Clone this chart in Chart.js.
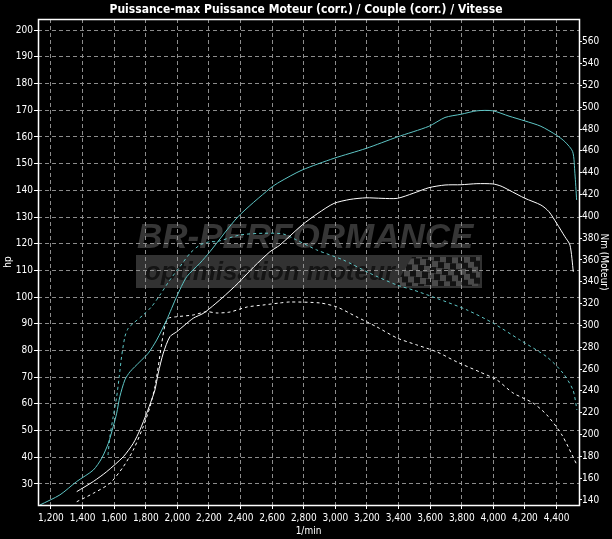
<!DOCTYPE html>
<html>
<head>
<meta charset="utf-8">
<script src="https://cdn.jsdelivr.net/npm/chart.js@4.4.1/dist/chart.umd.min.js"></script>
<style>
  html, body { margin: 0; padding: 0; background: #000; }
  #wrap { width: 612px; height: 539px; }
</style>
</head>
<body>
<div id="wrap"><canvas id="chart" width="612" height="539"></canvas></div>
<script>
// tick labels
const rpmTicks = [1200, 1400, 1600, 1800, 2000, 2200, 2400, 2600, 2800, 3000, 3200, 3400, 3600, 3800, 4000, 4200, 4400];
const hpTicks = [30, 40, 50, 60, 70, 80, 90, 100, 110, 120, 130, 140, 150, 160, 170, 180, 190, 200];
const nmTicks = [140, 160, 180, 200, 220, 240, 260, 280, 300, 320, 340, 360, 380, 400, 420, 440, 460, 480, 500, 520, 540, 560];

// tuned power (cyan solid, hp)
const tunedPowerRpm = [1130, 1257, 1363, 1468, 1521, 1563, 1594, 1616, 1636, 1668, 1700, 1763, 1816, 1869, 1932, 1996, 2059, 2143, 2206, 2384, 2586, 2649, 2789, 2991, 3194, 3392, 3592, 3694, 3795, 3896, 3997, 4099, 4200, 4301, 4401, 4453, 4502, 4516, 4527];
const tunedPowerHp = [22.1, 25.9, 30.9, 35.2, 39.6, 45.2, 51.5, 56.5, 62.7, 69, 72, 75.8, 79, 83.9, 91.4, 100.2, 107.6, 112.7, 117, 130.1, 140.7, 143.2, 147.6, 152, 155.7, 160, 164, 167.3, 168.5, 169.8, 169.8, 167.8, 166, 164, 160.6, 158.2, 154.5, 146.4, 136.4];

// stock power (white solid, hp)
const stockPowerRpm = [1363, 1468, 1553, 1658, 1721, 1763, 1806, 1837, 1858, 1879, 1911, 1953, 1996, 2048, 2101, 2164, 2206, 2282, 2384, 2485, 2586, 2649, 2789, 2890, 2991, 3093, 3194, 3295, 3392, 3493, 3592, 3694, 3795, 3896, 3997, 4048, 4099, 4200, 4301, 4352, 4401, 4453, 4485, 4506];
const stockPowerHp = [27.1, 30.9, 34.6, 40.2, 45.2, 50.2, 56.5, 61.5, 65.2, 71.5, 79, 85.2, 87, 89.6, 92.1, 93.9, 95.8, 99.6, 105.2, 111.4, 117, 119.5, 127, 131.4, 135.1, 136.6, 137.2, 137, 137, 138.9, 141, 142, 142.1, 142.5, 142.4, 141.6, 140.1, 137, 134.5, 132, 127.6, 122.6, 119.5, 109.5];

// tuned torque (cyan dashed, Nm)
const tunedTorqueRpm = [1561, 1573, 1594, 1616, 1632, 1647, 1668, 1689, 1721, 1784, 1837, 1890, 1953, 2016, 2080, 2143, 2206, 2249, 2396, 2544, 2670, 2755, 2882, 3050, 3219, 3388, 3493, 3641, 3833, 3997, 4168, 4339, 4440, 4504, 4529];
const tunedTorqueNm = [181.2, 198, 216.4, 234.7, 253, 271.3, 289.7, 297.4, 302, 309.6, 317.2, 327.9, 341.7, 353.8, 366.1, 373.7, 376.8, 376.8, 382.9, 384.5, 383.8, 378.3, 369.2, 360, 347.8, 337.1, 332.5, 324.9, 314.2, 302.2, 286.7, 271.1, 256.4, 240.8, 222.5];

// stock torque (white dashed, Nm)
const stockTorqueRpm = [1363, 1468, 1573, 1658, 1721, 1784, 1827, 1858, 1879, 1901, 1922, 1942, 1996, 2101, 2185, 2251, 2333, 2441, 2542, 2649, 2713, 2903, 3010, 3137, 3263, 3390, 3516, 3643, 3770, 3915, 4023, 4124, 4251, 4339, 4434, 4529];
const stockTorqueNm = [138.4, 146.1, 155.3, 170.5, 185.8, 207.2, 225.5, 243.9, 262.2, 283.6, 300.4, 306.5, 308, 309.6, 312.6, 311.4, 312.3, 316.9, 318.7, 320.6, 321.5, 320.6, 316.9, 307.7, 298.6, 288.5, 282.1, 275.7, 266.5, 257.3, 250, 238.1, 228.9, 217.9, 199.6, 172.1];

const CYAN = "#5ec6c6";
const WHITE = "#ffffff";
const GRID = "#8c8c8c";
const tickFont = { family: "'Liberation Sans Narrow', 'DejaVu Sans Condensed', sans-serif", size: 10 };

function toPoints(xs, ys) {
    return xs.map((x, i) => ({ x: x, y: ys[i] }));
}

// black background + watermark, drawn under grid and curves
const backdrop = {
    id: "backdrop",
    beforeDraw(chart) {
        const ctx = chart.ctx;
        ctx.save();
        ctx.fillStyle = "#000";
        ctx.fillRect(0, 0, chart.width, chart.height);

        ctx.fillStyle = "#363636";
        ctx.font = "italic bold 35px 'Liberation Sans', sans-serif";
        ctx.textBaseline = "alphabetic";
        ctx.fillText("BR-PERFORMANCE", 137, 248);

        ctx.fillStyle = "#323232";
        ctx.fillRect(136, 255, 346, 33);
        ctx.fillStyle = "#141414";
        ctx.font = "italic bold 26px 'Liberation Sans', sans-serif";
        ctx.fillText("optimisation moteur", 145, 280);

        // checkered flag
        ctx.beginPath();
        ctx.moveTo(412, 257);
        ctx.lineTo(480, 257);
        ctx.lineTo(480, 286);
        ctx.lineTo(395, 286);
        ctx.closePath();
        ctx.clip();
        const sq = 6;
        for (let r = 0; r < 6; r++) {
            for (let c = 0; c < 16; c++) {
                const x0 = 392 + c * sq - r * 2;
                const y0 = 255 + r * sq - Math.sin(c / 2.2) * 2.5;
                ctx.fillStyle = (r + c) % 2 ? "#121212" : "#4a4a4a";
                ctx.fillRect(x0, y0, sq, sq);
            }
        }
        ctx.restore();
    }
};

// white frame around the plot
const frame = {
    id: "frame",
    afterDraw(chart) {
        const a = chart.chartArea;
        const ctx = chart.ctx;
        ctx.save();
        ctx.strokeStyle = WHITE;
        ctx.lineWidth = 1.5;
        ctx.strokeRect(Math.round(a.left) + 0.5, Math.round(a.top) + 0.5, Math.round(a.right - a.left), Math.round(a.bottom - a.top));
        ctx.restore();
    }
};

new Chart(document.getElementById("chart"), {
    type: "line",
    data: {
        datasets: [
            {
                label: "Puissance (corr.)",
                data: toPoints(tunedPowerRpm, tunedPowerHp),
                borderColor: CYAN,
                yAxisID: "yHp",
            },
            {
                label: "Puissance série",
                data: toPoints(stockPowerRpm, stockPowerHp),
                borderColor: WHITE,
                yAxisID: "yHp",
            },
            {
                label: "Couple (corr.)",
                data: toPoints(tunedTorqueRpm, tunedTorqueNm),
                borderColor: CYAN,
                borderDash: [3, 3],
                yAxisID: "yNm",
            },
            {
                label: "Couple série",
                data: toPoints(stockTorqueRpm, stockTorqueNm),
                borderColor: WHITE,
                borderDash: [3, 3],
                yAxisID: "yNm",
            },
        ],
    },
    options: {
        responsive: false,
        animation: false,
        devicePixelRatio: 1,
        layout: { padding: 0 },
        elements: {
            point: { radius: 0 },
            line: { borderWidth: 1, tension: 0.25, fill: false },
        },
        plugins: {
            legend: { display: false },
            tooltip: { enabled: false },
            title: {
                display: true,
                text: "Puissance-max Puissance Moteur (corr.) / Couple (corr.) / Vitesse",
                color: WHITE,
                font: { family: "'Liberation Sans Narrow', 'DejaVu Sans Condensed', sans-serif", size: 12, weight: "bold", lineHeight: 1.25 },
                padding: { top: 2, bottom: 2 },
            },
        },
        scales: {
            x: {
                type: "linear",
                position: "bottom",
                min: 1118,
                max: 4542,
                afterBuildTicks: (s) => { s.ticks = rpmTicks.map((v) => ({ value: v })); },
                afterFit: (s) => { s.height = 34; },
                ticks: {
                    color: WHITE,
                    font: tickFont,
                    padding: 3,
                    maxRotation: 0,
                    autoSkip: false,
                    callback: (v) => v.toLocaleString("en-US"),
                },
                grid: { color: GRID, tickColor: WHITE, tickLength: 4, tickBorderDash: [], drawTicks: true },
                border: { display: false, dash: [4, 3] },
                title: { display: true, text: "1/min", color: WHITE, font: tickFont, padding: { top: 0, bottom: 2 } },
            },
            yHp: {
                type: "linear",
                position: "left",
                min: 22.1,
                max: 204.2,
                afterBuildTicks: (s) => { s.ticks = hpTicks.map((v) => ({ value: v })); },
                afterFit: (s) => { s.width = 38; },
                ticks: { color: WHITE, font: tickFont, padding: 1 },
                grid: { color: GRID, tickColor: WHITE, tickLength: 4, tickBorderDash: [] },
                border: { display: false, dash: [4, 3] },
                title: { display: true, text: "hp", color: WHITE, font: tickFont, padding: { top: 2, bottom: 0 } },
            },
            yNm: {
                type: "linear",
                position: "right",
                min: 135.4,
                max: 580.9,
                afterBuildTicks: (s) => { s.ticks = nmTicks.map((v) => ({ value: v })); },
                afterFit: (s) => { s.width = 33; },
                ticks: { color: WHITE, font: tickFont, padding: 0 },
                grid: { drawOnChartArea: false, tickColor: WHITE, tickLength: 3 },
                border: { display: false },
                title: { display: true, text: "Nm (Moteur)", color: WHITE, font: tickFont, padding: { top: 2, bottom: 0 } },
            },
        },
    },
    plugins: [backdrop, frame],
});
</script>
</body>
</html>
